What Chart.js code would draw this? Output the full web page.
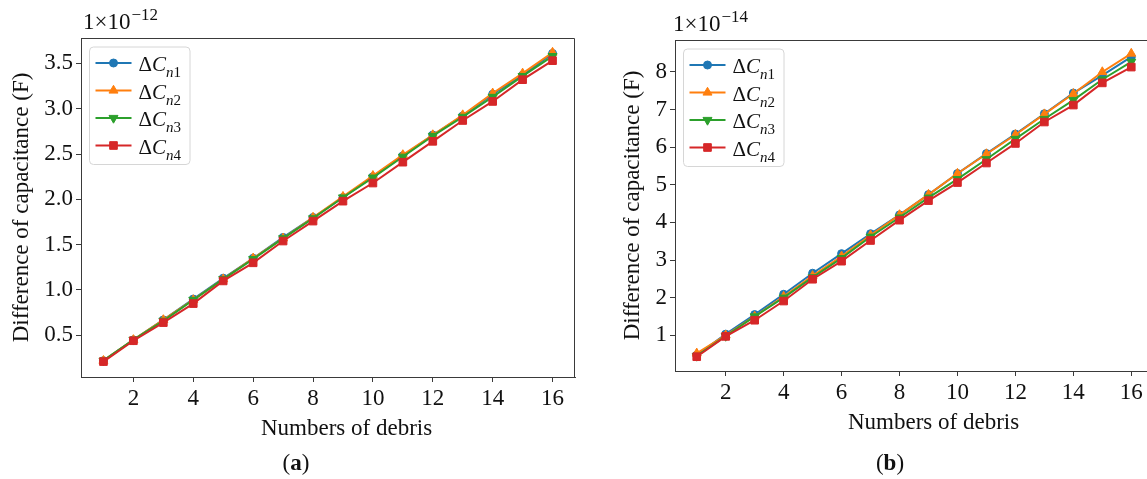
<!DOCTYPE html>
<html>
<head>
<meta charset="utf-8">
<script src="https://cdn.jsdelivr.net/npm/chart.js@4/dist/chart.umd.min.js"></script>
<style>
  html, body { margin: 0; padding: 0; background: #fff; }
  body { position: relative; width: 1147px; height: 479px; overflow: hidden;
         font-family: "Liberation Serif", "Times New Roman", serif; color: #111; }
  .wrap { position: absolute; top: 0; height: 450px; }
  #wrapA { left: 0; width: 600px; }
  #wrapB { left: 600px; width: 560px; }
  .expo { position: absolute; font-size: 23px; line-height: 1; white-space: nowrap; }
  .expo sup { font-size: 17px; vertical-align: 0; position: relative; top: -9px; margin-left: 1px; }
  .xt { position: absolute; font-size: 23px; line-height: 26px; white-space: nowrap; }
  .cap { position: absolute; top: 450px; font-size: 23px; line-height: 26px; transform: translateX(-50%); }
</style>
</head>
<body>
<div id="wrapA" class="wrap"><canvas id="chartA"></canvas></div>
<div id="wrapB" class="wrap"><canvas id="chartB"></canvas></div>
<div class="expo" style="left:83px; top:10px;">1×10<sup>−12</sup></div>
<div class="expo" style="left:673px; top:12px;">1×10<sup>−14</sup></div>
<div class="xt" style="left:261px; top:415px;">Numbers of debris</div>
<div class="xt" style="left:848px; top:409px;">Numbers of debris</div>
<div class="cap" style="left:296px;">(<b>a</b>)</div>
<div class="cap" style="left:890px;">(<b>b</b>)</div>

<script>
// x values and ticks
var debris = [1, 2, 3, 4, 5, 6, 7, 8, 9, 10, 11, 12, 13, 14, 15, 16];
var xTicks = [2, 4, 6, 8, 10, 12, 14, 16];

// panel (a), in units of 1e-12 F
var cn1A = [0.22, 0.45, 0.67, 0.90, 1.13, 1.35, 1.58, 1.80, 2.02, 2.25, 2.48, 2.71, 2.92, 3.16, 3.37, 3.61];
var cn2A = [0.22, 0.45, 0.67, 0.89, 1.12, 1.35, 1.57, 1.80, 2.03, 2.26, 2.49, 2.71, 2.93, 3.17, 3.39, 3.62];
var cn3A = [0.22, 0.45, 0.66, 0.89, 1.12, 1.34, 1.57, 1.79, 2.02, 2.24, 2.47, 2.70, 2.91, 3.13, 3.36, 3.58];
var cn4A = [0.21, 0.44, 0.64, 0.85, 1.10, 1.30, 1.54, 1.76, 1.98, 2.18, 2.41, 2.64, 2.87, 3.08, 3.32, 3.53];
var yTicksA = [0.5, 1.0, 1.5, 2.0, 2.5, 3.0, 3.5];

// panel (b), in units of 1e-14 F
var cn1B = [0.47, 1.03, 1.55, 2.09, 2.65, 3.17, 3.70, 4.20, 4.74, 5.30, 5.83, 6.35, 6.89, 7.44, 7.91, 8.40];
var cn2B = [0.52, 1.00, 1.50, 2.03, 2.58, 3.10, 3.66, 4.20, 4.74, 5.30, 5.82, 6.33, 6.88, 7.42, 8.00, 8.49];
var cn3B = [0.45, 0.98, 1.50, 2.00, 2.54, 3.05, 3.62, 4.13, 4.66, 5.15, 5.68, 6.22, 6.75, 7.25, 7.80, 8.27];
var cn4B = [0.43, 0.97, 1.40, 1.91, 2.49, 2.97, 3.52, 4.06, 4.58, 5.06, 5.58, 6.10, 6.67, 7.12, 7.71, 8.13];
var yTicksB = [1, 2, 3, 4, 5, 6, 7, 8];

var seriesLabels = ['ΔCn1', 'ΔCn2', 'ΔCn3', 'ΔCn4'];
var seriesColors = ['#1f77b4', '#ff7f0e', '#2ca02c', '#d62728'];
var markerStyles = ['circle', 'triangle', 'triangle', 'rect'];
var markerRadius = [4, 5.2, 5.2, 5.4];
var markerTurn = [0, 0, 180, 0];

var FONT = '"Liberation Serif", "Times New Roman", serif';
var INK = '#111';
var SPINE = '#3a3a3a';

// draws the top/right spines and a matplotlib style legend with subscripts
var frameLegend = {
    id: 'frameLegend',
    afterDraw: function(chart) {
        var ctx = chart.ctx;
        var ca = chart.chartArea;
        ctx.save();
        ctx.strokeStyle = SPINE;
        ctx.lineWidth = 1;
        ctx.beginPath();
        ctx.moveTo(ca.left, ca.top + 0.5);
        ctx.lineTo(ca.right - 0.5, ca.top + 0.5);
        ctx.lineTo(ca.right - 0.5, ca.bottom);
        ctx.stroke();

        var bigFont = '21px ' + FONT, bigIt = 'italic 21px ' + FONT;
        var smFont = '15px ' + FONT, smIt = 'italic 15px ' + FONT;
        var sets = chart.data.datasets;
        var widths = sets.map(function(ds) {
            var lab = ds.label;
            ctx.font = bigFont; var w = ctx.measureText(lab[0]).width;
            ctx.font = bigIt; w += ctx.measureText(lab[1]).width;
            ctx.font = smIt; w += ctx.measureText(lab[2]).width;
            ctx.font = smFont; w += ctx.measureText(lab.slice(3)).width;
            return w;
        });
        var x0 = ca.left + 8.5, y0 = ca.top + 9;
        var rowH = 27.5;
        var w = 50 + Math.max.apply(null, widths) + 8;
        var h = 16 + rowH * (sets.length - 1) + 19;
        ctx.beginPath();
        ctx.roundRect(x0, y0, w, h, 4);
        ctx.fillStyle = 'rgba(255,255,255,0.85)';
        ctx.fill();
        ctx.strokeStyle = '#d6d6d6';
        ctx.stroke();

        sets.forEach(function(ds, i) {
            var y = y0 + 16 + i * rowH;
            ctx.strokeStyle = ds.borderColor;
            ctx.lineWidth = ds.borderWidth;
            ctx.beginPath();
            ctx.moveTo(x0 + 6, y);
            ctx.lineTo(x0 + 42, y);
            ctx.stroke();
            ctx.fillStyle = ds.pointBackgroundColor;
            ctx.strokeStyle = ds.pointBorderColor;
            ctx.lineWidth = ds.pointBorderWidth;
            Chart.helpers.drawPoint(ctx, {
                pointStyle: ds.pointStyle, radius: ds.pointRadius,
                rotation: ds.pointRotation, borderWidth: ds.pointBorderWidth
            }, x0 + 24, y);

            var lab = ds.label;
            var tx = x0 + 49, base = y + 8;
            ctx.fillStyle = INK;
            ctx.textBaseline = 'alphabetic';
            ctx.textAlign = 'left';
            ctx.font = bigFont; ctx.fillText(lab[0], tx, base); tx += ctx.measureText(lab[0]).width;
            ctx.font = bigIt; ctx.fillText(lab[1], tx, base); tx += ctx.measureText(lab[1]).width;
            ctx.font = smIt; ctx.fillText(lab[2], tx, base + 6); tx += ctx.measureText(lab[2]).width;
            ctx.font = smFont; ctx.fillText(lab.slice(3), tx, base + 6);
        });
        ctx.restore();
    }
};

function makeChart(canvasId, seriesList, yTicks, yMin, yMax, decimals, lay) {
    var datasets = seriesList.map(function(vals, i) {
        return {
            label: seriesLabels[i],
            data: debris.map(function(d, j) { return { x: d, y: vals[j] }; }),
            borderColor: seriesColors[i],
            backgroundColor: seriesColors[i],
            borderWidth: 2,
            pointStyle: markerStyles[i],
            pointRadius: markerRadius[i],
            pointRotation: markerTurn[i],
            pointBackgroundColor: seriesColors[i],
            pointBorderColor: seriesColors[i],
            pointBorderWidth: 1,
            tension: 0,
            order: 4 - i
        };
    });

    var tickFont = { family: FONT, size: 23 };

    return new Chart(document.getElementById(canvasId), {
        type: 'line',
        data: { datasets: datasets },
        plugins: [frameLegend],
        options: {
            responsive: true,
            maintainAspectRatio: false,
            animation: false,
            layout: { padding: { top: lay.top, right: lay.right, left: 0, bottom: 0 } },
            plugins: { legend: { display: false }, tooltip: { enabled: false } },
            scales: {
                x: {
                    type: 'linear',
                    min: 0.25,
                    max: 16.75,
                    afterBuildTicks: function(s) { s.ticks = xTicks.map(function(v) { return { value: v }; }); },
                    afterFit: function(s) { s.height = lay.xH; },
                    ticks: { color: INK, font: tickFont, padding: 3, maxRotation: 0,
                             callback: function(v) { return String(v); } },
                    grid: { drawOnChartArea: false, drawTicks: true, tickLength: 5, color: SPINE },
                    border: { display: true, color: SPINE, width: 1 }
                },
                y: {
                    type: 'linear',
                    min: yMin,
                    max: yMax,
                    afterBuildTicks: function(s) { s.ticks = yTicks.map(function(v) { return { value: v }; }); },
                    afterFit: function(s) { s.width = lay.yW; },
                    ticks: { color: INK, font: tickFont, padding: 3,
                             callback: function(v) { return decimals ? v.toFixed(1) : String(v); } },
                    grid: { drawOnChartArea: false, drawTicks: true, tickLength: 5, color: SPINE },
                    border: { display: true, color: SPINE, width: 1 },
                    title: { display: true, text: 'Difference of capacitance (F)', color: INK,
                             font: { family: FONT, size: 23 }, padding: { top: lay.yTitlePad, bottom: 0 } }
                }
            }
        }
    });
}

makeChart('chartA', [cn1A, cn2A, cn3A, cn4A], yTicksA, 0.04, 3.78, true,
    { top: 38, right: 25, yW: 81, xH: 73, yTitlePad: 8 });
makeChart('chartB', [cn1B, cn2B, cn3B, cn4B], yTicksB, 0.05, 8.85, false,
    { top: 40, right: 7, yW: 75, xH: 79, yTitlePad: 19 });
</script>
</body>
</html>
